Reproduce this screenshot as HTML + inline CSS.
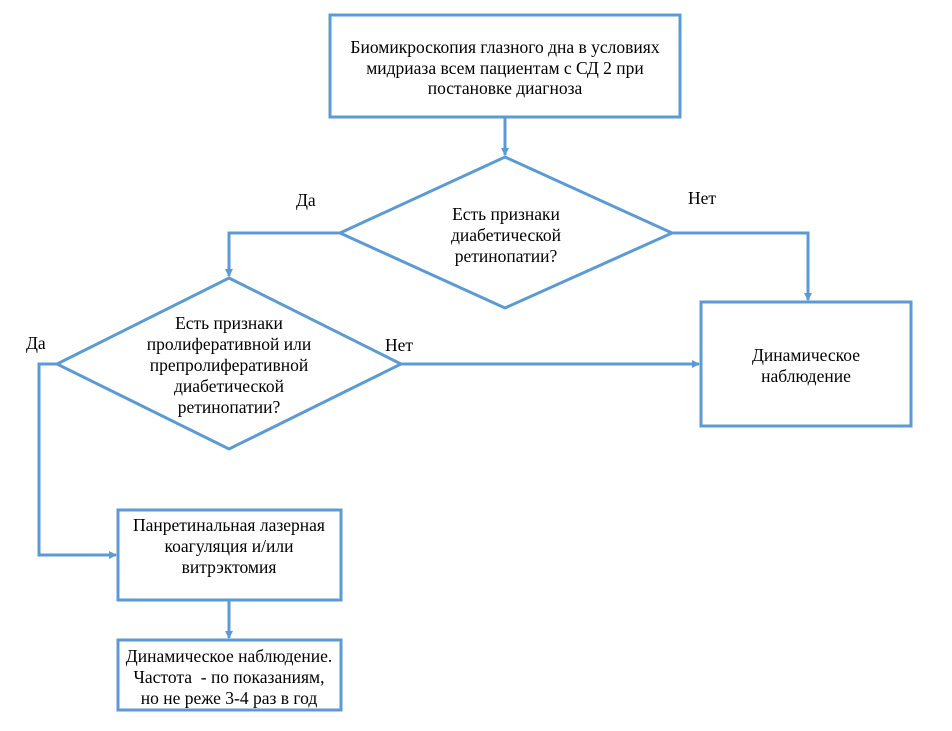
<!DOCTYPE html>
<html><head><meta charset="utf-8"><style>
html,body{margin:0;padding:0;background:#fff;}
svg text{font-family:"Liberation Serif","Times New Roman","DejaVu Serif",serif;font-size:17.5px;fill:#000;}
</style></head><body>
<svg width="952" height="726" viewBox="0 0 952 726" xmlns="http://www.w3.org/2000/svg">
<defs><marker id="a" markerWidth="8" markerHeight="8" refX="7" refY="4" orient="auto" markerUnits="userSpaceOnUse"><path d="M0,0 L8,4 L0,8 z" fill="#5B9BD5"/></marker></defs>
<g fill="none" stroke="#5B9BD5" stroke-width="3">
<rect x="330" y="15" width="350" height="102"/>
<line x1="505" y1="117" x2="505" y2="155" marker-end="url(#a)"/>
<polygon points="505,157 672,233 505,308 340,233"/>
<polyline points="340,233 229,233 229,276" marker-end="url(#a)"/>
<polyline points="672,233 808,233 808,300" marker-end="url(#a)"/>
<rect x="701" y="302" width="210" height="124"/>
<polygon points="229,278 401,364 229,449 57,364"/>
<polyline points="57,364 39,364 39,555 116,555" marker-end="url(#a)"/>
<line x1="401" y1="364" x2="699" y2="364" marker-end="url(#a)"/>
<rect x="118" y="510" width="223" height="90"/>
<line x1="229" y1="600" x2="229" y2="638" marker-end="url(#a)"/>
<rect x="118" y="640" width="223" height="70"/>
</g>
<g text-anchor="middle">
<text x="505" y="53">Биомикроскопия глазного дна в условиях</text>
<text x="505" y="74">мидриаза всем пациентам с СД 2 при</text>
<text x="505" y="94">постановке диагноза</text>
<text x="506" y="220">Есть признаки</text>
<text x="506" y="241">диабетической</text>
<text x="506" y="262">ретинопатии?</text>
<text x="806" y="361">Динамическое</text>
<text x="806" y="382">наблюдение</text>
<text x="229" y="329">Есть признаки</text>
<text x="229" y="350">пролиферативной или</text>
<text x="229" y="371">препролиферативной</text>
<text x="229" y="392">диабетической</text>
<text x="229" y="413">ретинопатии?</text>
<text x="229" y="531">Панретинальная лазерная</text>
<text x="229" y="552">коагуляция и/или</text>
<text x="229" y="573">витрэктомия</text>
<text x="229" y="662">Динамическое наблюдение.</text>
<text x="229" y="683">Частота &#160;- по показаниям,</text>
<text x="229" y="704">но не реже 3-4 раз в год</text>
</g>
<text x="296" y="206">Да</text>
<text x="688" y="204">Нет</text>
<text x="26" y="349">Да</text>
<text x="385" y="351">Нет</text>
</svg>
</body></html>
